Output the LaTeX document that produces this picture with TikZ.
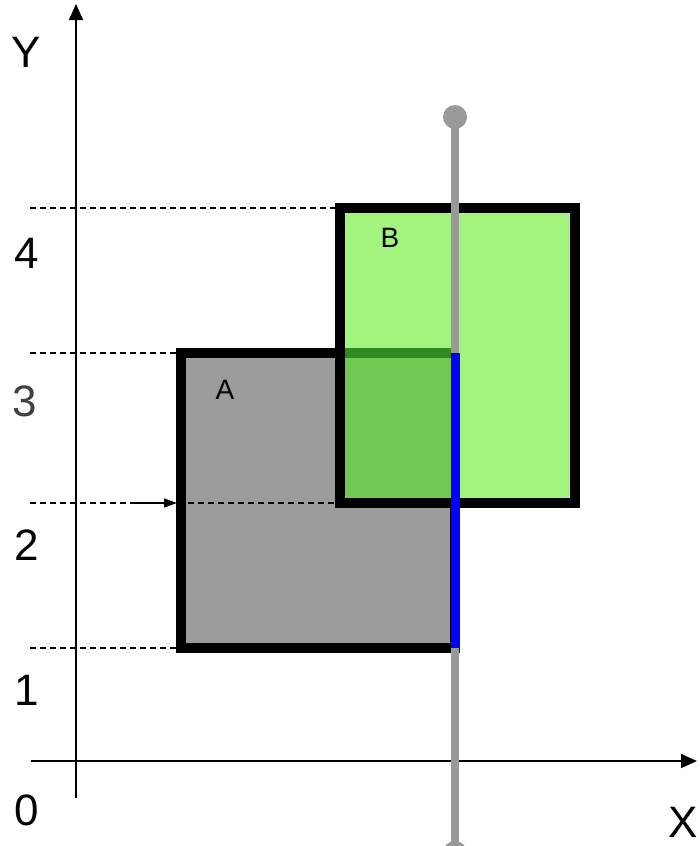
\documentclass[tikz,border=0pt]{standalone}
\usepackage{fontspec}
\setmainfont{Liberation Sans}
\usetikzlibrary{arrows.meta}
\definecolor{agrey}{HTML}{9C9C9C}
\definecolor{bgreen}{HTML}{A2F47E}
\definecolor{mgreen}{HTML}{72C852}
\definecolor{dgreen}{HTML}{2E8A20}
\definecolor{lgrey}{HTML}{999999}
\definecolor{digit3}{HTML}{404040}
\tikzset{
  boxline/.style={draw=black, line width=10pt},
  dashline/.style={line width=1.2pt, dash pattern=on 6pt off 4pt},
  axisline/.style={line width=1.6pt, -{Triangle[length=16pt,width=14pt]}},
  biglabel/.style={font=\fontsize{44}{44}\selectfont, inner sep=0pt},
  boxlabel/.style={font=\fontsize{28}{28}\selectfont, inner sep=0pt},
  probe/.style={draw=lgrey, line width=8.5pt},
  segment/.style={draw=blue, line width=9pt},
}
\begin{document}
\begin{tikzpicture}[x=1pt,y=-1pt]
\useasboundingbox (0,0) rectangle (699,846);
% coordinates
\coordinate (A1) at (181,353);
\coordinate (A2) at (455,648);
\coordinate (B1) at (340,208);
\coordinate (B2) at (575,503);
% rect A
\fill[agrey] (A1) rectangle (A2);
\draw[boxline] (A1) rectangle (A2);
% dashed guide inside A
\coordinate (ai) at (188,503);
\coordinate (bi) at (335,503);
\draw[dashline] (ai) -- (bi);
% rect B
\fill[bgreen] (B1) rectangle (B2);
% overlap
\fill[mgreen] (345,348) rectangle (455,498);
\fill[dgreen] (345,348) rectangle (455,358);
\draw[boxline] (B1) rectangle (B2);
% dashed guides
\coordinate (d4) at (30,208);
\coordinate (d3) at (30,353);
\coordinate (d2) at (30,503);
\coordinate (d2e) at (130,503);
\coordinate (d2a) at (177,503);
\coordinate (d1) at (30,648);
\draw[dashline] (d4) -- (B1);
\draw[dashline] (d3) -- (A1);
\draw[dashline] (d2) -- (d2e);
\draw[line width=1.2pt, -{Triangle[length=13pt,width=9pt]}] (d2e) -- (d2a);
\draw[dashline] (d1) -- (176,648);
% axes
\coordinate (O) at (76,761);
\coordinate (yb) at (76,798);
\coordinate (yt) at (76,4);
\coordinate (xl) at (31,761);
\coordinate (xr) at (697,761);
\draw[axisline] (yb) -- (yt);
\draw[axisline] (xl) -- (xr);
% probe line
\coordinate (pt) at (455,117);
\coordinate (pb) at (455,853);
\draw[probe] (pt) -- (pb);
\fill[lgrey] (pt) circle (12);
\fill[lgrey] (pb) circle (12);
\draw[segment] (455,353) -- (455,648);
% labels
\node[biglabel] (ly) at (26,52) {Y};
\node[biglabel] (lx) at (683,822) {X};
\node[biglabel] (l0) at (27,810) {0};
\node[biglabel] (l1) at (27,690) {1};
\node[biglabel] (l2) at (27,545) {2};
\node[biglabel, text=digit3] (l3) at (25,401) {3};
\node[biglabel] (l4) at (27,253) {4};
\node[boxlabel] (la) at (225,390) {A};
\node[boxlabel] (lb) at (390,238) {B};
\end{tikzpicture}
\end{document}
